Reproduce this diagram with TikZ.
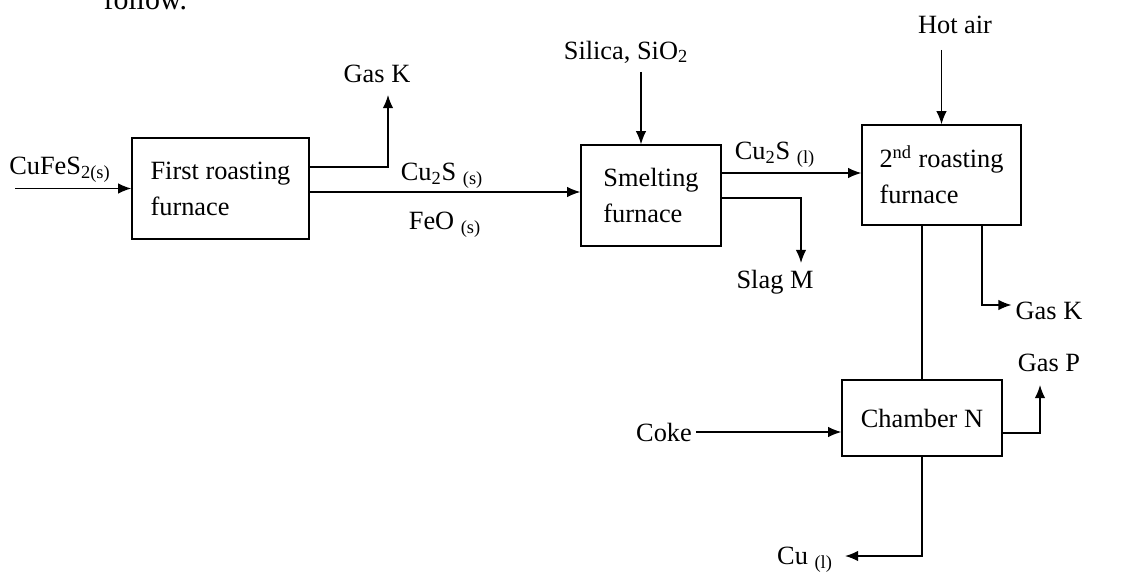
\documentclass[tikz,border=0pt]{standalone}
\usepackage{fontspec}
\setmainfont{Liberation Serif}
\usetikzlibrary{arrows.meta}
\begin{document}
\begin{tikzpicture}[x=0.02cm, y=-0.02cm, >={Latex[length=7.5pt,width=6pt]}, line width=0.8pt,
    every node/.style={font=\fontsize{15}{20.5}\selectfont},
    furnace/.style={draw, align=left, inner sep=0pt},
    tag/.style={inner sep=2pt}]

    % 1. Khung hình
    \useasboundingbox (0, 0) rectangle (1131, 577);
    \node[anchor=base west, font=\fontsize{17}{20}\selectfont] (follow) at (97, 10) {follow.};

    % 2. Các lò và buồng
    \node[furnace, minimum width=3.54cm, minimum height=2.02cm] (first) at (220.5, 188.5) {First roasting\\furnace};
    \node[furnace, minimum width=2.8cm, minimum height=2.02cm] (smelt) at (651, 195.5) {Smelting\\furnace};
    \node[furnace, minimum width=3.18cm, minimum height=2cm] (second) at (941.5, 175) {2\textsuperscript{nd} roasting\\furnace};
    \node[furnace, minimum width=3.2cm, minimum height=1.52cm] (chamber) at (922, 418) {Chamber N};

    % 3. Các nhãn
    \node[tag] (cufes) at (60, 170) {CuFeS\textsubscript{2(s)}};
    \node[tag] (gask1) at (377, 74) {Gas K};
    \node[tag] (cusS) at (442, 176) {Cu\textsubscript{2}S \textsubscript{(s)}};
    \node[tag] (feo) at (445, 225) {FeO \textsubscript{(s)}};
    \node[tag] (silica) at (626, 52) {Silica, SiO\textsubscript{2}};
    \node[tag] (cusL) at (775, 155) {Cu\textsubscript{2}S \textsubscript{(l)}};
    \node[tag] (slag) at (775, 282) {Slag M};
    \node[tag] (hotair) at (955, 25) {Hot air};
    \node[tag] (gask2) at (1049, 311) {Gas K};
    \node[tag] (gasp) at (1049, 363) {Gas P};
    \node[tag] (coke) at (664, 432) {Coke};
    \node[tag] (cul) at (805, 560) {Cu \textsubscript{(l)}};

    % 4. Các điểm gấp
    \coordinate (feedin) at (15, 188.5);
    \coordinate (kbend) at (388, 167);
    \coordinate (cusout) at (309, 192);
    \coordinate (silin) at (641, 72);
    \coordinate (slagbend) at (801, 198);
    \coordinate (hotin) at (941.5, 50);
    \coordinate (kbend2) at (982, 305);
    \coordinate (pbend) at (1040, 433);
    \coordinate (cubend) at (922, 556);
    \coordinate (cutip) at (845, 556);

    % 5. Các dòng chảy
    \draw[->] (feedin) -- (first.west);
    \draw[->] (first.east |- kbend) -- (kbend) -- ++(0, -72);
    \draw[->] (cusout) -- (cusout -| smelt.west);
    \draw[->] (silin) -- (silin |- smelt.north);
    \draw[->] ([yshift=0.45cm]smelt.east) -- ([yshift=0.45cm]smelt.east -| second.west);
    \draw[->] (smelt.east |- slagbend) -- (slagbend) -- ++(0, 65);
    \draw[->] (hotin) -- (second.north);
    \draw (second.south -| chamber.north) -- (chamber.north);
    \draw[->] (second.south -| kbend2) -- (kbend2) -- (kbend2 -| gask2.west);
    \draw[->] (coke.east) -- (coke.east -| chamber.west);
    \draw[->] (chamber.east |- pbend) -- (pbend) -- ++(0, -48);
    \draw[->] (chamber.south) -- (cubend) -- (cutip);

\end{tikzpicture}
\end{document}
